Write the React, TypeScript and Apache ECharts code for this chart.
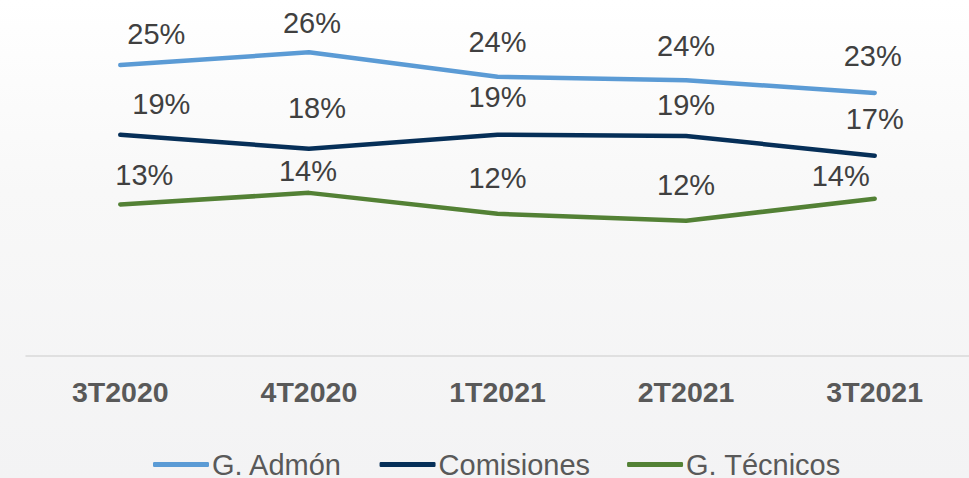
import React, { useEffect, useRef } from "react";
import * as echarts from "echarts";

const categories = ["3T2020", "4T2020", "1T2021", "2T2021", "3T2021"];
const seriesNames = ["G. Admón", "Comisiones", "G. Técnicos"];
const admon = [25.0, 26.1, 24.0, 23.7, 22.6];
const comisiones = [19.0, 17.8, 19.0, 18.9, 17.2];
const tecnicos = [13.0, 14.0, 12.2, 11.6, 13.5];

// label nudges relative to the point (layout only): [dx, dy of label centre]
const labelNudges = [
  [[36, -30], [3, -28], [0, -33], [0, -33], [-2, -35]],
  [[41, -29], [8, -39], [0, -36], [0, -29], [0, -35]],
  [[24, -28], [-1, -20], [0, -34], [0, -34], [-34, -21]],
];

const colors = ["#5B9BD5", "#062F58", "#538135"];
const FONT = "'Liberation Sans', Arial, sans-serif";

export default function App() {
  const ref = useRef<HTMLDivElement>(null);
  useEffect(() => {
    if (!ref.current) return;
    const chart = echarts.init(ref.current, null, { renderer: "svg" });
    const all = [admon, comisiones, tecnicos];
    chart.setOption({
      animation: false,
      textStyle: { fontFamily: FONT },
      grid: { left: 26, top: 7, width: 948, height: 348.5, containLabel: false },
      legend: {
        left: 148,
        top: 445,
        icon: "roundRect",
        itemWidth: 56,
        itemHeight: 5,
        itemGap: 37,
        textStyle: { fontSize: 29, color: "#595959", fontFamily: FONT, padding: [0, 0, 0, -2] },
        data: seriesNames,
      },
      xAxis: {
        type: "category",
        data: categories,
        boundaryGap: true,
        axisTick: { show: false },
        axisLine: { lineStyle: { color: "#d9d9d9", width: 1.5 } },
        axisLabel: { fontSize: 28.5, fontWeight: "bold", color: "#595959", margin: 22, fontFamily: FONT },
      },
      yAxis: { type: "value", min: 0, max: 30, show: false, splitLine: { show: false } },
      series: all.map((vals, si) => ({
        name: seriesNames[si],
        type: "line",
        symbol: "circle",
        symbolSize: 2,
        showSymbol: true,
        color: colors[si],
        itemStyle: { color: colors[si] },
        lineStyle: { width: 4.5, color: colors[si], cap: "round", join: "round" },
        data: vals.map((v, i) => ({
          value: v,
          label: {
            show: true,
            position: "top",
            distance: 0,
            offset: [labelNudges[si][i][0], labelNudges[si][i][1] + 14],
            formatter: (p: any) => Math.round(p.value) + "%",
            fontSize: 29,
            color: "#404040",
            fontFamily: FONT,
          },
        })),
      })),
    });
    return () => chart.dispose();
  }, []);
  return (
    <div
      style={{
        position: "fixed",
        left: 0,
        top: 0,
        width: 969,
        height: 478,
        background: "linear-gradient(to bottom, #ffffff 0%, #f8f8f8 40%, #f3f3f4 100%)",
      }}
    >
      <div ref={ref} style={{ width: 969, height: 478 }} />
    </div>
  );
}
